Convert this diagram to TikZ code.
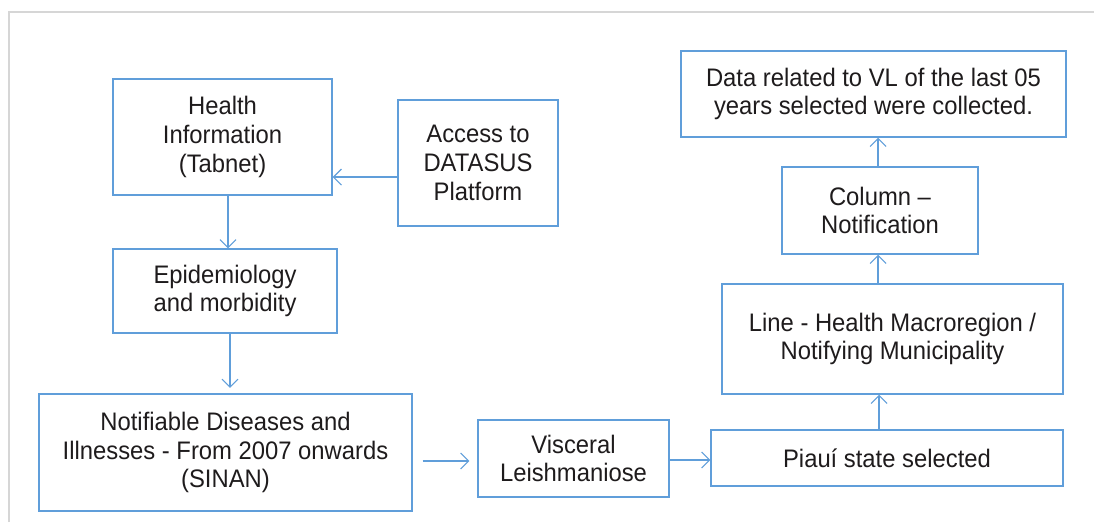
\documentclass[tikz,border=0pt]{standalone}
\usepackage{fontspec}
\setmainfont{Liberation Sans}[FakeStretch=0.94]
\usepackage{xcolor}
\usetikzlibrary{arrows.meta}

\definecolor{boxblue}{RGB}{96,158,218}
\definecolor{framegray}{RGB}{214,214,214}
\definecolor{inkgray}{RGB}{30,27,28}

\begin{document}
\begin{tikzpicture}[x=0.75pt,y=-0.75pt,
  block/.style={draw=boxblue,line width=1.1pt,align=center,inner sep=0pt,
    font=\fontsize{19}{21.5}\selectfont,text=inkgray},
  flow/.style={draw=boxblue,line width=0.8pt,-{Straight Barb[length=6pt,width=12pt]}}]
  \useasboundingbox (0,0) rectangle (1094,522);
  % outer frame (cut at right and bottom)
  \draw[framegray,line width=2.2pt] (9,522) -- (9,12) -- (1094,12);
  % left column
  \node[block,minimum width=164.25pt,minimum height=87pt] (health) at (222.5,137) {Health\\Information\\(Tabnet)};
  \node[block,minimum width=120pt,minimum height=94.5pt] (access) at (478,163) {Access to\\DATASUS\\Platform};
  \node[block,minimum width=168pt,minimum height=63pt] (epidem) at (225,291) {Epidemiology\\and morbidity};
  \node[block,minimum width=279.75pt,minimum height=87.75pt] (sinan) at (225.5,452.5) {Notifiable Diseases and\\Illnesses - From 2007 onwards\\(SINAN)};
  % bottom row
  \node[block,minimum width=143.25pt,minimum height=57.75pt] (visceral) at (573.5,458.5) {Visceral\\Leishmaniose};
  \node[block,minimum width=264pt,minimum height=42pt] (piaui) at (887,458) {Piauí state selected};
  % right column
  \node[block,minimum width=255.75pt,minimum height=82.5pt] (macro) at (892.5,339) {Line - Health Macroregion /\\Notifying Municipality};
  \node[block,minimum width=147pt,minimum height=65.25pt] (column) at (880,210.5) {Column –\\Notification};
  \node[block,minimum width=288.75pt,minimum height=64.5pt] (collected) at (873.5,94) {Data related to VL of the last 05\\years selected were collected.};
  % connectors
  \draw[flow] (access.west |- 0,177) -- (health.east |- 0,177);
  \draw[flow] (health.south -| 228,0) -- (epidem.north -| 228,0);
  \draw[flow,shorten >=4pt] (epidem.south -| 230,0) -- (sinan.north -| 230,0);
  \draw[flow,shorten <=7.5pt,shorten >=6pt] (sinan.east |- 0,461) -- (visceral.west |- 0,461);
  \draw[flow] (visceral.east |- 0,460) -- (piaui.west |- 0,460);
  \draw[flow] (piaui.north -| 879,0) -- (macro.south -| 879,0);
  \draw[flow] (macro.north -| 878,0) -- (column.south -| 878,0);
  \draw[flow] (column.north -| 878,0) -- (collected.south -| 878,0);
\end{tikzpicture}
\end{document}
